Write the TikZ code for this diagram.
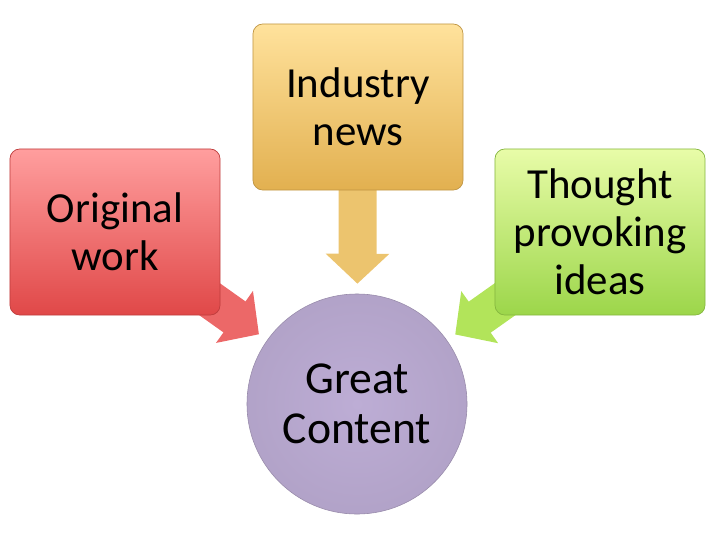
\documentclass[tikz,border=0pt]{standalone}
\usepackage{fontspec}
\setmainfont{Carlito}
\usetikzlibrary{arrows.meta}
\definecolor{redtop}{RGB}{255,158,158}
\definecolor{redbot}{RGB}{224,72,72}
\definecolor{redarr}{RGB}{236,104,104}
\definecolor{ylwtop}{RGB}{255,226,156}
\definecolor{ylwbot}{RGB}{226,176,80}
\definecolor{ylwarr}{RGB}{236,196,110}
\definecolor{grntop}{RGB}{232,252,168}
\definecolor{grnbot}{RGB}{156,214,74}
\definecolor{grnarr}{RGB}{178,228,90}
\definecolor{lavender}{RGB}{189,173,213}

\begin{document}
\begin{tikzpicture}[x=0.025cm,y=-0.025cm,
box/.style={rounded corners=7pt,minimum width=5.25cm,minimum height=4.15cm,align=center,inner sep=2pt,
  font=\fontsize{30.5}{34}\selectfont,line width=.5pt},
flow/.style={line width=0.95cm,-{Triangle[length=0.75cm,width=1.55cm]},shorten >=0.25cm}]

\useasboundingbox (0,0) rectangle (720,540);
\node[circle,minimum size=5.5cm,inner sep=0pt,align=center,font=\fontsize{32.5}{35.5}\selectfont,
  draw=lavender!80!black,inner color=lavender,outer color=lavender!94!black] (great) at (357,404) {Great\\Content};
\coordinate (orig) at (115,232);
\coordinate (ind) at (358,107);
\coordinate (thou) at (600,232);
% arrows go under the boxes
\draw[flow,draw=ylwarr] (ind) -- (great);
\draw[flow,draw=redarr] (orig) -- (great);
\draw[flow,draw=grnarr] (thou) -- (great);
\node[box,draw=redbot!85!black,top color=redtop,bottom color=redbot] (origbox) at (orig) {Original\\work};
\node[box,draw=ylwbot!85!black,top color=ylwtop,bottom color=ylwbot] (indbox) at (ind) {Industry\\news};
\node[box,draw=grnbot!85!black,top color=grntop,bottom color=grnbot] (thoubox) at (thou) {Thought\\provoking\\ideas};
\end{tikzpicture}
\end{document}
